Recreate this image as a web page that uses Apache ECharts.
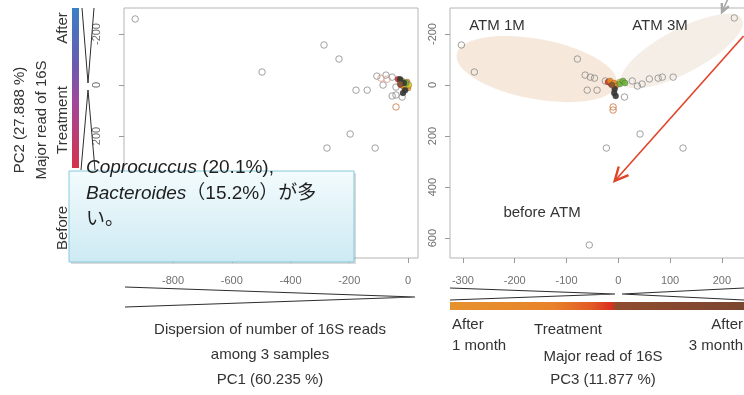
<!DOCTYPE html>
<html>
<head>
<meta charset="utf-8">
<script src="https://cdn.jsdelivr.net/npm/echarts@6/dist/echarts.min.js"></script>
<style>
  html, body { margin: 0; padding: 0; background: #ffffff; }
  #chart { width: 744px; height: 395px; }
</style>
</head>
<body>
<div id="chart"></div>
<script>
// ---- PCA scores: PC1 vs PC2 (left panel) ----
const pc1pc2Open = [
  [-929, -259], [-286, -157], [-235, -102], [-497, -51], [-177, 20], [-139, 20],
  [-197, 192], [-276, 247], [-112, 247],
  [-106, -35], [-75, -39], [-54, -31], [-85, 0], [-41, 8], [-54, 43], [-41, 39], [-20, 47]
];
const pc1pc2Tinted = [[-92, -27], [-71, -23]];
const pc1pc2Ring = [[-41, 86]];
// [PC1, PC2, group]
const pc1pc2Cluster = [
  [-34, -23, 0], [-24, 0, 0], [-14, 8, 1], [0, 12, 1], [-3, -12, 1],
  [-7, 4, 2], [3, 0, 2], [-20, -16, 3], [-7, -8, 3],
  [-27, -23, 4], [-14, -8, 4], [-10, 20, 4], [-17, 31, 4], [-27, -4, 5]
];

// ---- PCA scores: PC3 vs PC2 (right panel) ----
const pc3pc2Open = [
  [-303, -157], [-278, -51], [-79, -102], [-64, -39], [-54, -31], [-46, -27],
  [-60, 20], [-41, 20], [-25, -16], [12, 47], [27, -16], [37, 4], [46, -4],
  [60, -24], [77, -27], [85, -31], [106, -31], [224, -263], [42, 192],
  [-23, 247], [125, 247], [-56, 627]
];
const pc3pc2Ring = [[-10, 86], [-10, 98]];
// [PC3, PC2, group]
const pc3pc2Cluster = [
  [-20, -12, 0], [-14, -4, 0], [-16, -16, 1], [-8, -8, 1], [-5, 4, 1],
  [3, -12, 2], [3, -4, 3], [9, -16, 3], [13, -8, 3],
  [-7, 16, 4], [-8, 31, 4], [-5, 43, 4], [-12, 0, 5]
];

// ---- axis tick values ----
const pc1Ticks = [-800, -600, -400, -200, 0];
const pc2Ticks = [-200, 0, 200, 400, 600];
const pc3Ticks = [-300, -200, -100, 0, 100, 200];

// ---- sample group regions and treatment direction (PC3, PC2) ----
const atm1mRegion = [[-312, -121], [-3, -4]];
const atm3mRegion = [[7, -8], [239, -258]];
const treatmentArrow = [[242, -192], [-7, 376]];

const groupColors = ['#d5361f', '#ec8a1f', '#d8c22c', '#6cb23a', '#353535', '#8a5431'];
const FONT = '"Liberation Sans", Arial, "Noto Sans CJK JP", sans-serif';

const chart = echarts.init(document.getElementById('chart'), null, { renderer: 'canvas' });

function valueAxis(grid, min, max, ticks, labelExtra, extra) {
  return Object.assign({
    type: 'value', gridIndex: grid, min: min, max: max,
    axisLine: { show: false, onZero: false },
    splitLine: { show: false },
    axisTick: { show: true, length: 5, lineStyle: { color: '#9a9a9a' }, customValues: ticks },
    axisLabel: Object.assign({ customValues: ticks, color: '#707070', fontSize: 11, fontFamily: FONT }, labelExtra)
  }, extra || {});
}

function openSeries(data, xi, color) {
  return {
    type: 'scatter', xAxisIndex: xi, yAxisIndex: xi, data: data, symbol: 'circle',
    symbolSize: 6.5, z: 3,
    itemStyle: { color: 'rgba(255,255,255,0)', borderColor: color, borderWidth: 1 }
  };
}

function clusterSeries(data, xi) {
  return {
    type: 'scatter', xAxisIndex: xi, yAxisIndex: xi, data: data, symbolSize: 6, z: 4,
    itemStyle: {
      color: p => groupColors[p.data[2]], opacity: 0.9,
      borderColor: 'rgba(60,60,60,0.5)', borderWidth: 0.6
    }
  };
}

const gridBase = {
  top: 8, height: 250, show: true, borderColor: '#b5b5b5', borderWidth: 1,
  backgroundColor: 'rgba(0,0,0,0)', containLabel: false, outerBoundsMode: 'none'
};

chart.setOption({
  animation: false,
  grid: [
    Object.assign({ left: 124, width: 294 }, gridBase),
    Object.assign({ left: 450, width: 320 }, gridBase)
  ],
  xAxis: [
    valueAxis(0, -967, 34, pc1Ticks, { margin: 17 }, { position: 'bottom' }),
    valueAxis(1, -325, 293, pc3Ticks, { margin: 17 }, { position: 'bottom' })
  ],
  yAxis: [
    valueAxis(0, -302, 678, pc2Ticks, { rotate: 90, margin: 22 }, { inverse: true, position: 'left' }),
    valueAxis(1, -302, 678, pc2Ticks, { rotate: 90, margin: 12 }, { inverse: true, position: 'left' })
  ],
  series: [
    openSeries(pc1pc2Open, 0, '#8a8a8a'),
    openSeries(pc1pc2Tinted, 0, '#d99a8a'),
    openSeries(pc1pc2Ring, 0, '#c9753f'),
    clusterSeries(pc1pc2Cluster, 0),
    openSeries(pc3pc2Open, 1, '#8a8a8a'),
    openSeries(pc3pc2Ring, 1, '#c9753f'),
    clusterSeries(pc3pc2Cluster, 1)
  ]
});

// ---- annotation layer ----
const toPx = v => chart.convertToPixel({ gridIndex: 1 }, v);

function regionEllipse(ends, halfWidth, color) {
  const a = toPx(ends[0]), b = toPx(ends[1]);
  const cx = (a[0] + b[0]) / 2, cy = (a[1] + b[1]) / 2;
  const len = Math.hypot(b[0] - a[0], b[1] - a[1]) / 2;
  const ang = Math.atan2(b[1] - a[1], b[0] - a[0]);
  return {
    type: 'ellipse', x: cx, y: cy, rotation: -ang, z: 1, silent: true,
    shape: { cx: 0, cy: 0, rx: len, ry: halfWidth },
    style: { fill: color }
  };
}

function arrow(from, to, color, width, head) {
  const ang = Math.atan2(to[1] - from[1], to[0] - from[0]);
  const h1 = [to[0] - head * Math.cos(ang - 0.45), to[1] - head * Math.sin(ang - 0.45)];
  const h2 = [to[0] - head * Math.cos(ang + 0.45), to[1] - head * Math.sin(ang + 0.45)];
  return [
    { type: 'polyline', z: 5, silent: true, shape: { points: [from, to] }, style: { stroke: color, lineWidth: width, fill: null } },
    { type: 'polyline', z: 5, silent: true, shape: { points: [h1, to, h2] }, style: { stroke: color, lineWidth: width + 0.8, fill: null, lineJoin: 'miter' } }
  ];
}

function label(text, x, y, opts) {
  return {
    type: 'text', x: x, y: y, rotation: (opts && opts.rot) || 0, z: 6, silent: true,
    style: Object.assign({
      text: text, font: '15px ' + FONT, fill: '#333333', align: 'center', verticalAlign: 'middle'
    }, (opts && opts.style) || {})
  };
}

function line(points, color, width) {
  return { type: 'polyline', z: 5, silent: true, shape: { points: points }, style: { stroke: color || '#2d2d2d', lineWidth: width || 1, fill: null } };
}

const graphics = [];

// sample group regions in PC3/PC2 space
graphics.push(regionEllipse(atm1mRegion, 30, 'rgba(240,218,196,0.62)'));
graphics.push(regionEllipse(atm3mRegion, 22, 'rgba(238,226,214,0.6)'));

// treatment direction arrows
graphics.push(...arrow(toPx(treatmentArrow[0]), toPx(treatmentArrow[1]), '#e0452a', 1.6, 15));
graphics.push(...arrow([731, -8], [722, 12], '#a8a8a8', 1.6, 9));

// group labels
graphics.push(label('ATM 1M', 497, 26));
graphics.push(label('ATM 3M', 660, 26));
graphics.push(label('before ATM', 542, 213));

// PC2 axis legend (left side)
graphics.push(label('PC2 (27.888 %)', 20, 120, { rot: Math.PI / 2 }));
graphics.push(label('Major read of 16S', 42, 120, { rot: Math.PI / 2 }));
graphics.push(label('After', 63, 28, { rot: Math.PI / 2 }));
graphics.push(label('Treatment', 63, 120, { rot: Math.PI / 2 }));
graphics.push(label('Before', 63, 228, { rot: Math.PI / 2 }));
graphics.push({
  type: 'rect', z: 5, silent: true, shape: { x: 72, y: 8, width: 7, height: 160 },
  style: {
    fill: new echarts.graphic.LinearGradient(0, 0, 0, 1, [
      { offset: 0, color: '#3a7fc4' },
      { offset: 0.35, color: '#6a5cb0' },
      { offset: 0.6, color: '#a2469a' },
      { offset: 1, color: '#d6324a' }
    ])
  }
});
graphics.push(line([[82, 8], [88, 83], [94, 8]]));
graphics.push(line([[81, 170], [88, 90], [95, 170]]));

// PC1 axis legend (bottom left)
graphics.push(line([[125, 287], [415, 297], [125, 307]], '#2d2d2d', 1.2));
graphics.push(label('Dispersion of number of 16S reads', 270, 330));
graphics.push(label('among 3 samples', 270, 355));
graphics.push(label('PC1 (60.235 %)', 270, 380));

// PC3 axis legend (bottom right)
graphics.push(line([[450, 288], [615, 294], [450, 300]], '#2d2d2d', 1.2));
graphics.push(line([[744, 288], [622, 294], [744, 300]], '#2d2d2d', 1.2));
graphics.push({
  type: 'rect', z: 5, silent: true, shape: { x: 450, y: 302, width: 294, height: 8 },
  style: {
    fill: new echarts.graphic.LinearGradient(0, 0, 1, 0, [
      { offset: 0, color: '#e6922e' },
      { offset: 0.35, color: '#e8822a' },
      { offset: 0.48, color: '#e25a26' },
      { offset: 0.55, color: '#d9301f' },
      { offset: 0.565, color: '#8e4c2e' },
      { offset: 1, color: '#7c4530' }
    ])
  }
});
graphics.push(label('After\n1 month', 452, 335, { style: { align: 'left', lineHeight: 21 } }));
graphics.push(label('Treatment', 568, 330));
graphics.push(label('After\n3 month', 743, 335, { style: { align: 'right', lineHeight: 21 } }));
graphics.push(label('Major read of 16S', 603, 357));
graphics.push(label('PC3 (11.877 %)', 603, 380));

// callout box
graphics.push({
  type: 'rect', z: 9, silent: true, shape: { x: 71, y: 173, width: 285, height: 91 },
  style: { fill: 'rgba(150,150,150,0.35)' }
});
graphics.push({
  type: 'rect', z: 10, silent: true, shape: { x: 69, y: 171, width: 285, height: 91 },
  style: {
    fill: new echarts.graphic.LinearGradient(0, 0, 0, 1, [
      { offset: 0, color: '#f3fbfd' },
      { offset: 1, color: '#cdeaf3' }
    ]),
    stroke: '#86cbdb', lineWidth: 1
  }
});
graphics.push({
  type: 'text', z: 11, silent: true, x: 86, y: 194,
  style: {
    text: '{i|Coprocuccus} (20.1%),\n{i|Bacteroides}（15.2%）が多\nい。',
    font: '19px ' + FONT, fill: '#1f1f1f', align: 'left', verticalAlign: 'middle', lineHeight: 26,
    rich: {
      i: { fontStyle: 'italic', fontSize: 19, fontFamily: FONT, fill: '#1f1f1f', lineHeight: 26 }
    }
  }
});

chart.setOption({ graphic: graphics });
</script>
</body>
</html>
